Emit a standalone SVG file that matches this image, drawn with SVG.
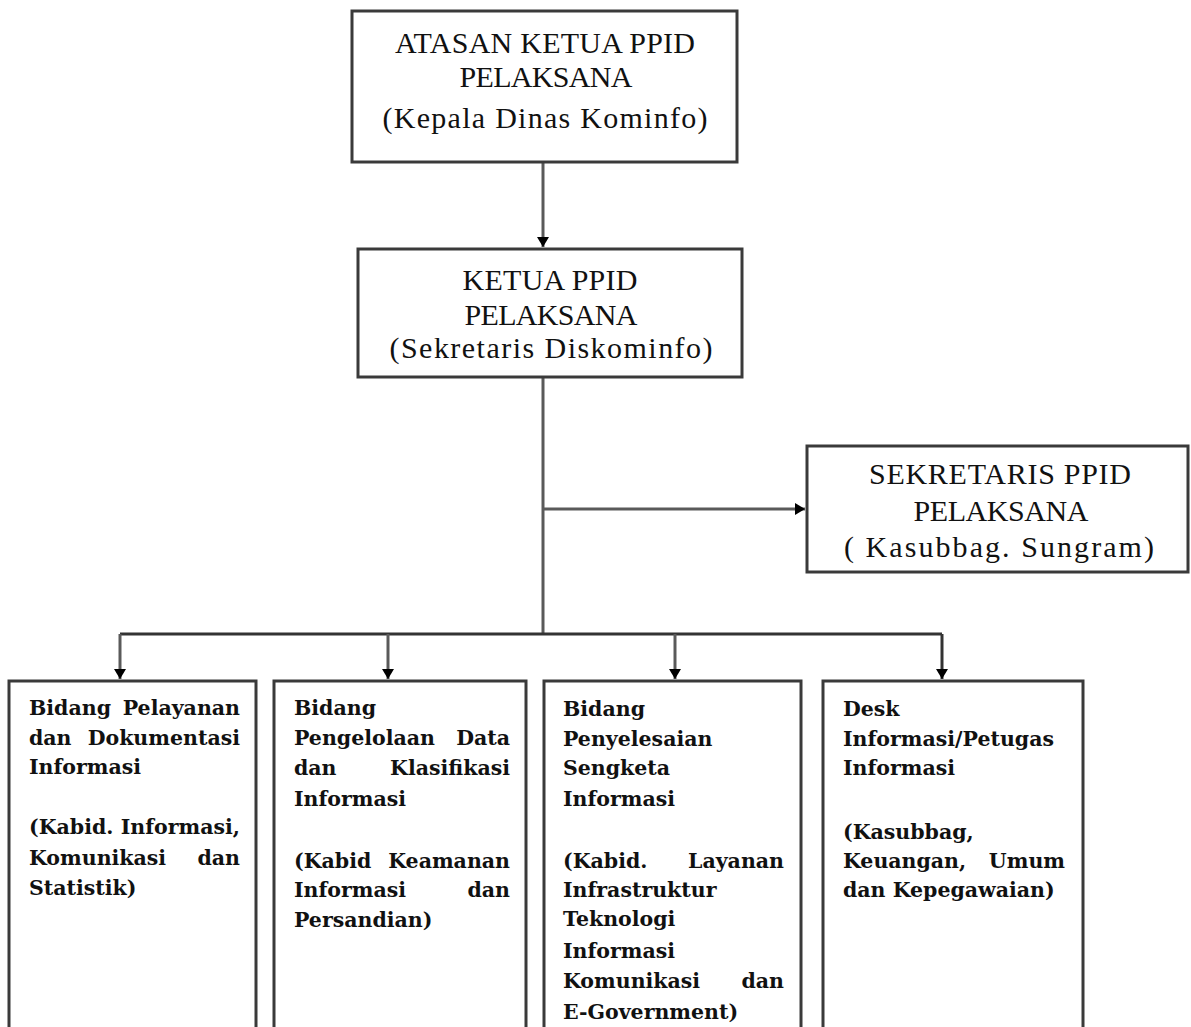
<svg xmlns="http://www.w3.org/2000/svg" width="1191" height="1027" viewBox="0 0 1191 1027">
<style>
.box{fill:#fff;stroke:#3a3a3a;stroke-width:3}
.hd{font-family:"Liberation Serif","Times New Roman",serif;font-size:30px;fill:#111;text-anchor:middle}
.bd{font-family:"DejaVu Serif",serif;font-size:20.5px;font-weight:bold;fill:#111}
.r{text-anchor:end}
.cn{fill:none;stroke:#5a5a5a;stroke-width:3}
</style>
<defs>
<marker id="ah" markerUnits="userSpaceOnUse" markerWidth="12" markerHeight="12" refX="10" refY="6" orient="auto">
<path d="M0,0 L10,6 L0,12 z" fill="#000"/>
</marker>
</defs>
<rect width="1191" height="1027" fill="#fff"/>
<g id="connectors">
<path class="cn" d="M543,163 V247" marker-end="url(#ah)"/>
<path class="cn" d="M543,377 V634"/>
<path class="cn" d="M543,509 H805" marker-end="url(#ah)"/>
<path class="cn" d="M120,634 H942" style="stroke:#333"/>
<path class="cn" d="M120,634 V679" marker-end="url(#ah)"/>
<path class="cn" d="M388,634 V679" marker-end="url(#ah)"/>
<path class="cn" d="M675,634 V679" marker-end="url(#ah)"/>
<path class="cn" d="M942,634 V679" marker-end="url(#ah)" style="stroke:#333"/>
</g>
<g id="atasan">
<rect class="box" x="352" y="11" width="385" height="151"/>
<text class="hd" x="545" y="53" textLength="300">ATASAN KETUA PPID</text>
<text class="hd" x="546" y="87" textLength="173">PELAKSANA</text>
<text class="hd" x="545" y="128" textLength="325">(Kepala Dinas Kominfo)</text>
</g>
<g id="ketua">
<rect class="box" x="358" y="249" width="384" height="128"/>
<text class="hd" x="550" y="290" textLength="175">KETUA PPID</text>
<text class="hd" x="551" y="325" textLength="173">PELAKSANA</text>
<text class="hd" x="551" y="358" textLength="323">(Sekretaris Diskominfo)</text>
</g>
<g id="sekretaris">
<rect class="box" x="807" y="446" width="381" height="126"/>
<text class="hd" x="1000" y="484" textLength="262">SEKRETARIS PPID</text>
<text class="hd" x="1001" y="521" textLength="175">PELAKSANA</text>
<text class="hd" x="999" y="557" textLength="310">( Kasubbag. Sungram)</text>
</g>
<g id="bidang-pelayanan">
<rect class="box" x="9" y="681" width="247" height="400"/>
<text class="bd" x="29" y="715">Bidang</text><text class="bd r" x="240" y="715">Pelayanan</text>
<text class="bd" x="29" y="745">dan</text><text class="bd r" x="240" y="745">Dokumentasi</text>
<text class="bd" x="29" y="774">Informasi</text>
<text class="bd" x="29" y="834">(Kabid.</text><text class="bd r" x="240" y="834">Informasi,</text>
<text class="bd" x="29" y="865">Komunikasi</text><text class="bd r" x="240" y="865">dan</text>
<text class="bd" x="29" y="895">Statistik)</text>
</g>
<g id="bidang-pengelolaan">
<rect class="box" x="274" y="681" width="252" height="400"/>
<text class="bd" x="294" y="715">Bidang</text>
<text class="bd" x="294" y="745">Pengelolaan</text><text class="bd r" x="510" y="745">Data</text>
<text class="bd" x="294" y="775">dan</text><text class="bd r" x="510" y="775">Klasifikasi</text>
<text class="bd" x="294" y="806">Informasi</text>
<text class="bd" x="294" y="868">(Kabid</text><text class="bd r" x="510" y="868">Keamanan</text>
<text class="bd" x="294" y="897">Informasi</text><text class="bd r" x="510" y="897">dan</text>
<text class="bd" x="294" y="927">Persandian)</text>
</g>
<g id="bidang-penyelesaian">
<rect class="box" x="544" y="681" width="257" height="400"/>
<text class="bd" x="563" y="716">Bidang</text>
<text class="bd" x="563" y="746">Penyelesaian</text>
<text class="bd" x="563" y="775">Sengketa</text>
<text class="bd" x="563" y="806">Informasi</text>
<text class="bd" x="563" y="868">(Kabid.</text><text class="bd r" x="784" y="868">Layanan</text>
<text class="bd" x="563" y="897">Infrastruktur</text>
<text class="bd" x="563" y="926">Teknologi</text>
<text class="bd" x="563" y="958">Informasi</text>
<text class="bd" x="563" y="988">Komunikasi</text><text class="bd r" x="784" y="988">dan</text>
<text class="bd" x="563" y="1019">E-Government)</text>
</g>
<g id="desk-informasi">
<rect class="box" x="823" y="681" width="260" height="400"/>
<text class="bd" x="843" y="716">Desk</text>
<text class="bd" x="843" y="746">Informasi/Petugas</text>
<text class="bd" x="843" y="775">Informasi</text>
<text class="bd" x="843" y="839">(Kasubbag,</text>
<text class="bd" x="843" y="868">Keuangan,</text><text class="bd r" x="1065" y="868">Umum</text>
<text class="bd" x="843" y="897">dan Kepegawaian)</text>
</g>
</svg>
